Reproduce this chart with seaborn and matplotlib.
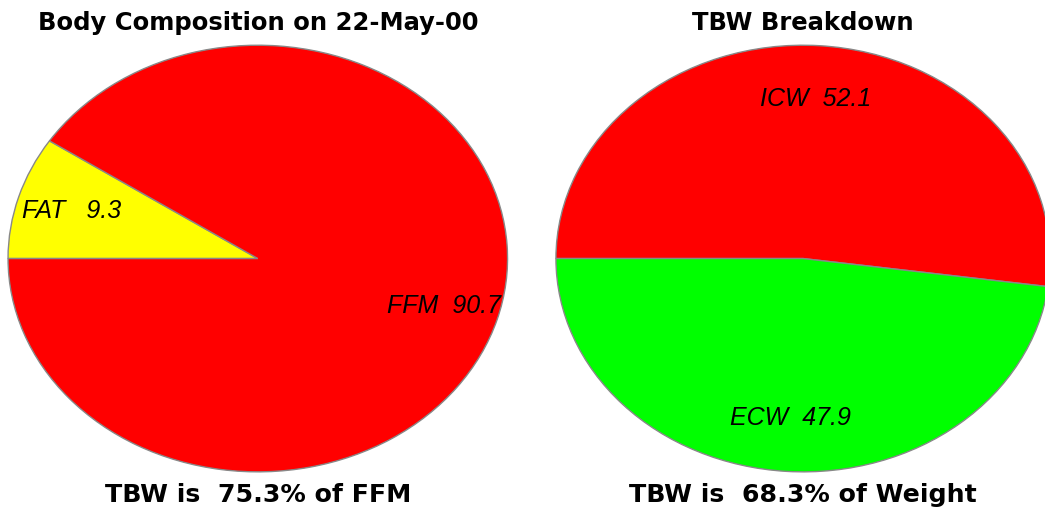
import matplotlib
matplotlib.use("Agg")
import matplotlib.pyplot as plt
import seaborn as sns

# data
comp_labels = ["FAT", "FFM"]
comp_values = [9.3, 90.7]
comp_colors = ["#FFFF00", "#FF0000"]

tbw_labels = ["ICW", "ECW"]
tbw_values = [52.1, 47.9]
tbw_colors = ["#FF0000", "#00FF00"]

titles = ["Body Composition on 22-May-00", "TBW Breakdown"]
footers = ["TBW is  75.3% of FFM", "TBW is  68.3% of Weight"]

sns.set_style("white")
plt.rcParams['font.family'] = ['Liberation Sans', 'DejaVu Sans']

fig = plt.figure(figsize=(10.45, 5.14), dpi=100)

# axes in figure fractions: pies are stretched into ellipses
ax1 = fig.add_axes([0.0077, 0.082, 0.478, 0.83])
ax2 = fig.add_axes([0.532, 0.082, 0.473, 0.83])


def draw_pie(ax, values, labels, colors, labeldist):
    # first wedge ends on the left horizontal
    start = 180 - values[0] / sum(values) * 360
    # single-digit numbers get an extra space (fixed-width field)
    txt = [f"{l}   {v}" if v < 10 else f"{l}  {v}" for l, v in zip(labels, values)]
    wedges, texts = ax.pie(
        values,
        labels=txt,
        colors=colors,
        startangle=start,
        labeldistance=labeldist,
        wedgeprops=dict(edgecolor="#888888", linewidth=1.0),
        textprops=dict(fontsize=18, style="italic", color="black"),
    )
    for t in texts:
        t.set_ha("center")
        t.set_va("center")
    ax.set_aspect("auto")
    ax.set_xlim(-1, 1)
    ax.set_ylim(-1, 1)
    ax.axis("off")


draw_pie(ax1, comp_values, comp_labels, comp_colors, 0.78)
draw_pie(ax2, tbw_values, tbw_labels, tbw_colors, 0.75)

head = dict(ha="center", va="center", fontweight="bold", color="black",
            family=["DejaVu Sans"])
fig.text(0.247, 0.956, titles[0], fontsize=17.5, **head)
fig.text(0.768, 0.956, titles[1], fontsize=17.5, **head)
fig.text(0.247, 0.037, footers[0], fontsize=18.2, **head)
fig.text(0.768, 0.037, footers[1], fontsize=18.2, **head)

fig.savefig("out.png", dpi=100)
